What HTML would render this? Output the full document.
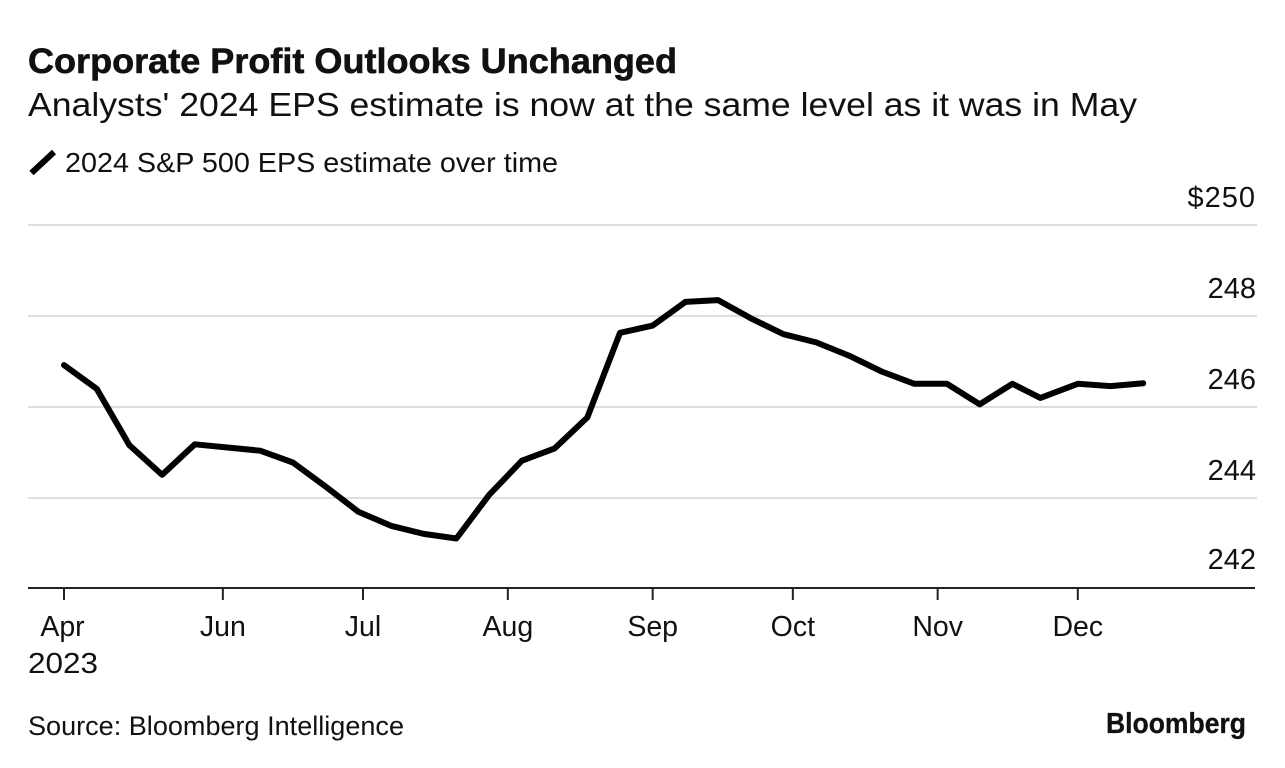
<!DOCTYPE html>
<html lang="en">
<head>
<meta charset="utf-8">
<title>Corporate Profit Outlooks Unchanged</title>
<style>
html,body{margin:0;padding:0;background:#fff;width:1285px;height:768px;overflow:hidden}
svg{display:block}
text{font-family:"Liberation Sans",Arial,sans-serif;fill:#111}
</style>
</head>
<body>
<svg id="chart" xmlns="http://www.w3.org/2000/svg" width="1285" height="768" viewBox="0 0 1285 768">
  <rect width="1285" height="768" fill="#fff"/>
  <text x="28" y="73" font-size="35" font-weight="700" textLength="649" lengthAdjust="spacingAndGlyphs" stroke="#111" stroke-width="0.6">Corporate Profit Outlooks Unchanged</text>
  <text x="28" y="116" font-size="33.5" textLength="1109" lengthAdjust="spacingAndGlyphs">Analysts' 2024 EPS estimate is now at the same level as it was in May</text>
  <line x1="31.5" y1="173" x2="54" y2="152" stroke="#000" stroke-width="6"/>
  <text x="65" y="172" font-size="28" textLength="493" lengthAdjust="spacingAndGlyphs">2024 S&amp;P 500 EPS estimate over time</text>
  <g id="grid"></g>
  <g id="ylabels"></g>
  <line x1="28" y1="588" x2="1255" y2="588" stroke="#222" stroke-width="2"/>
  <g id="xticks"></g>
  <path id="series" fill="none" stroke="#000" stroke-width="6" stroke-linejoin="round" stroke-linecap="round"/>
  <text x="28" y="673" font-size="29" textLength="70" lengthAdjust="spacingAndGlyphs">2023</text>
  <text x="28" y="735" font-size="27" textLength="376" lengthAdjust="spacingAndGlyphs">Source: Bloomberg Intelligence</text>
  <text x="1106" y="733" font-size="29" font-weight="700" textLength="140" lengthAdjust="spacingAndGlyphs" stroke="#111" stroke-width="0.3">Bloomberg</text>
</svg>
<script>
const dates = ['2023-04-28','2023-05-05','2023-05-12','2023-05-19','2023-05-26','2023-06-02','2023-06-09','2023-06-16','2023-06-23','2023-06-30','2023-07-07','2023-07-14','2023-07-21','2023-07-28','2023-08-04','2023-08-11','2023-08-18','2023-08-25','2023-09-01','2023-09-08','2023-09-15','2023-09-22','2023-09-29','2023-10-06','2023-10-13','2023-10-20','2023-10-27','2023-11-03','2023-11-10','2023-11-17','2023-11-23','2023-12-01','2023-12-08','2023-12-15'];
const epsEstimate = [246.92,246.40,245.16,244.51,245.18,245.11,245.04,244.78,244.25,243.70,243.39,243.21,243.11,244.07,244.82,245.09,245.77,247.63,247.79,248.31,248.35,247.95,247.60,247.42,247.13,246.78,246.51,246.51,246.06,246.51,246.20,246.51,246.46,246.52];
const yTicks = [250,248,246,244,242];
const yTickLabels = ['$250','248','246','244','242'];
const xTickDates = ['2023-04-28','2023-06-01','2023-07-01','2023-08-01','2023-09-01','2023-10-01','2023-11-01','2023-12-01'];
const xTickLabels = ['Apr','Jun','Jul','Aug','Sep','Oct','Nov','Dec'];

const NS = 'http://www.w3.org/2000/svg';
const DAY = 86400000;
const t0 = Date.parse('2023-04-28');
function xScale(d){ return 64 + 4.672 * (Date.parse(d) - t0) / DAY; }
function yScale(v){ return 225 + (250 - v) * 45.5; }

const grid = document.getElementById('grid');
const ylabels = document.getElementById('ylabels');
yTicks.forEach(function(v, i){
  const y = yScale(v);
  if (v > yTicks[yTicks.length - 1]) {
    const l = document.createElementNS(NS, 'line');
    
    
    l.setAttribute('x1', 28);
    l.setAttribute('x2', 1257);
    l.setAttribute('y1', y);
    l.setAttribute('y2', y);
    l.setAttribute('stroke', '#dedede');
    l.setAttribute('stroke-width', 2);
    grid.appendChild(l);
  }
  const t = document.createElementNS(NS, 'text');
  
  
  t.setAttribute('x', 1256);
  t.setAttribute('y', v === yTicks[yTicks.length - 1] ? y - 20 : y - 18);
  t.setAttribute('font-size', 29);
  t.setAttribute('text-anchor', 'end');
  if (i === 0) {
    t.setAttribute('letter-spacing', '1');
  }
  t.textContent = yTickLabels[i];
  ylabels.appendChild(t);
});

const xticks = document.getElementById('xticks');
xTickDates.forEach(function(d, i){
  const x = xScale(d);
  const l = document.createElementNS(NS, 'line');
  
  
  l.setAttribute('x1', x);
  l.setAttribute('x2', x);
  l.setAttribute('y1', 588);
  l.setAttribute('y2', 600);
  l.setAttribute('stroke', '#222');
  l.setAttribute('stroke-width', 2);
  xticks.appendChild(l);
  const t = document.createElementNS(NS, 'text');
  
  
  t.setAttribute('x', i === 0 ? x - 1.5 : x);
  t.setAttribute('y', 636);
  t.setAttribute('font-size', 28.5);
  t.setAttribute('text-anchor', 'middle');
  t.textContent = xTickLabels[i];
  xticks.appendChild(t);
});

document.getElementById('series').setAttribute('d', epsEstimate.map(function(v, i){
  return (i ? 'L' : 'M') + xScale(dates[i]).toFixed(1) + ' ' + yScale(v).toFixed(1);
}).join(' '));
</script>
</body>
</html>
